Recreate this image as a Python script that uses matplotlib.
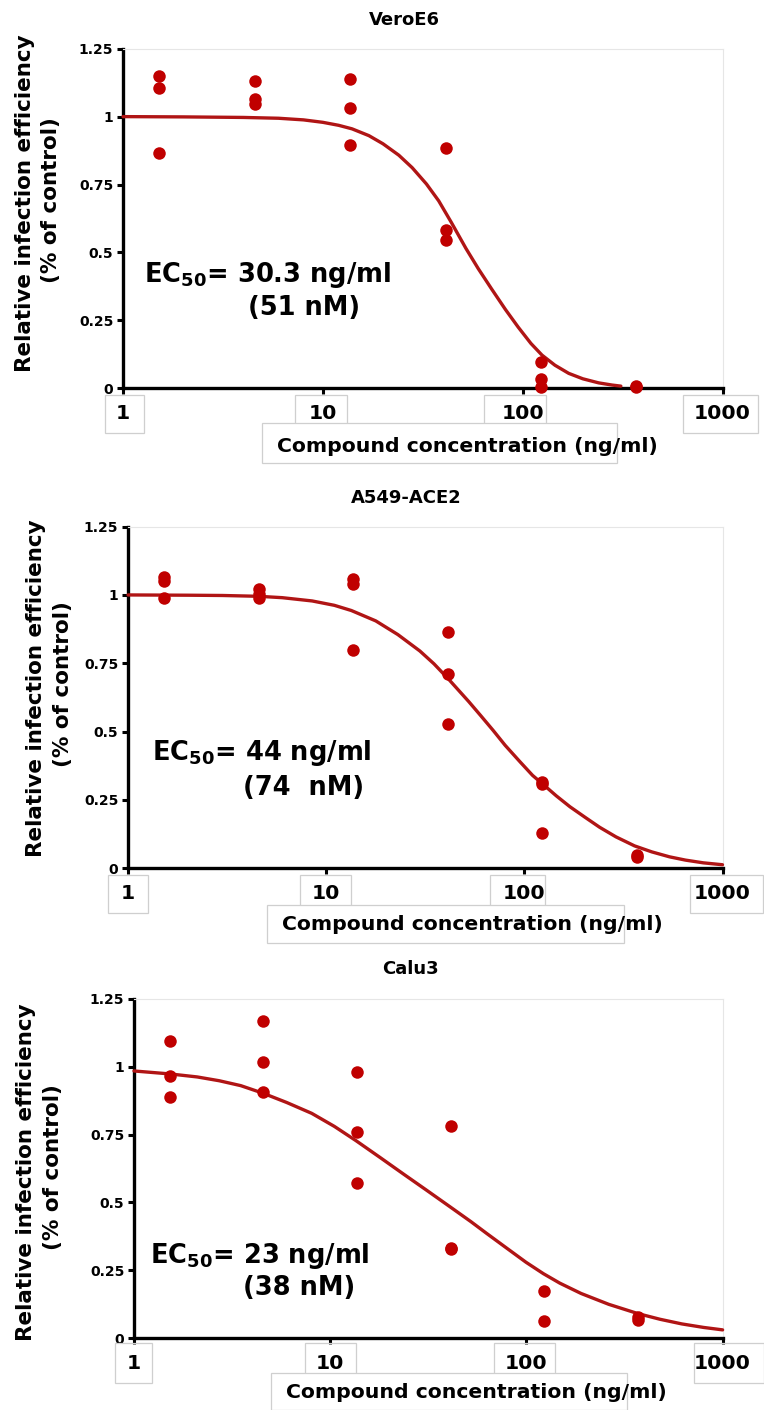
import matplotlib
matplotlib.use("Agg")
import matplotlib.pyplot as plt
from matplotlib.patches import Rectangle

plt.rcParams['font.family'] = ['DejaVu Sans']
plt.rcParams['font.weight'] = 'bold'
plt.rcParams['mathtext.default'] = 'bf'

# ---------------- data ----------------
conc = [1.52, 4.57, 13.7, 41.2, 123.5, 370]

vero_y = [[1.15, 1.105, 0.865], [1.13, 1.065, 1.045], [1.14, 1.03, 0.895],
          [0.885, 0.583, 0.545], [0.095, 0.033, 0.005], [0.01, 0.005]]
a549_y = [[1.065, 1.05, 0.99], [1.022, 1.005, 0.988], [1.057, 1.04, 0.80],
          [0.863, 0.711, 0.528], [0.315, 0.31, 0.13], [0.05, 0.04]]
calu_y = [[1.095, 0.967, 0.89], [1.168, 1.016, 0.908], [0.979, 0.758, 0.571],
          [0.782, 0.334, 0.328], [0.175, 0.064], [0.08, 0.068]]

# fitted curves
vero_cx = [1, 2, 4, 6, 8, 10, 12, 14, 17, 20, 24, 28, 33, 38, 44, 52, 60, 70, 82, 95,
           110, 125, 145, 170, 200, 240, 280, 310]
vero_cy = [1.0, 0.999, 0.997, 0.994, 0.988, 0.979, 0.968, 0.955, 0.93, 0.9, 0.858, 0.812,
           0.752, 0.69, 0.61, 0.515, 0.44, 0.365, 0.29, 0.225, 0.165, 0.122, 0.085, 0.055,
           0.035, 0.02, 0.012, 0.008]
a549_cx = [1, 2, 3, 4.57, 6, 8.5, 11, 13.4, 17.8, 23, 29.7, 35, 41.7, 52.4, 60, 69.5, 80,
           95, 110, 123, 145, 170, 204, 240, 290, 360, 440, 540, 650, 800, 1000]
a549_cy = [1.0, 0.999, 0.998, 0.995, 0.99, 0.978, 0.962, 0.943, 0.905, 0.855, 0.795, 0.748,
           0.69, 0.61, 0.56, 0.505, 0.45, 0.39, 0.34, 0.31, 0.265, 0.225, 0.185, 0.15,
           0.115, 0.082, 0.06, 0.042, 0.03, 0.02, 0.013]
calu_cx = [1, 1.53, 2.1, 2.72, 3.5, 4.55, 6, 8.05, 10.5, 13.5, 18, 23.8, 31, 41, 52, 63,
           80, 99.5, 122, 148, 190, 263, 370, 480, 619, 800, 1000]
calu_cy = [0.984, 0.973, 0.962, 0.948, 0.93, 0.902, 0.868, 0.828, 0.78, 0.728, 0.665,
           0.603, 0.545, 0.483, 0.43, 0.385, 0.33, 0.28, 0.238, 0.203, 0.165, 0.125,
           0.091, 0.07, 0.053, 0.04, 0.031]

titles = ["VeroE6", "A549-ACE2", "Calu3"]
ec_line1 = [r"EC$_{50}$= 30.3 ng/ml", r"EC$_{50}$= 44 ng/ml", r"EC$_{50}$= 23 ng/ml"]
ec_line2 = ["(51 nM)", "(74  nM)", "(38 nM)"]
xticks = [1, 10, 100, 1000]
xticklabels = ["1", "10", "100", "1000"]
yticks = [0, 0.25, 0.5, 0.75, 1, 1.25]
yticklabels = ["0", "0.25", "0.5", "0.75", "1", "1.25"]
xlabel = "Compound concentration (ng/ml)"
ylabel1 = "Relative infection efficiency"
ylabel2 = "(% of control)"

# ---------------- layout ----------------
W, H = 764, 1410
fig = plt.figure(figsize=(W / 100, H / 100), dpi=100)
fig.patch.set_facecolor('white')

def fx(x):
    return x / W

def fy(y):
    return 1 - y / H

DOT = '#C00000'
LINE = '#B01515'

panels = [
    dict(rect=(123, 722.5, 48.7, 388.3), ys=vero_y, cx=vero_cx, cy=vero_cy,
         title=(404, 20), yl1=(25, 203), yl2=(51, 200), ec1=(144, 282), ec2=(248, 315),
         boxes=[(105, 144), (295, 347), (484, 546), (683, 758)], btop=395, bbot=433,
         lbox=(262, 617, 423, 463), ltext=(467, 446)),
    dict(rect=(128, 722.5, 526.6, 868.3), ys=a549_y, cx=a549_cx, cy=a549_cy,
         title=(406, 498), yl1=(36, 688), yl2=(63, 684), ec1=(152, 760), ec2=(243, 795),
         boxes=[(108, 148), (300, 351), (490, 545), (690, 763)], btop=875, bbot=913,
         lbox=(267, 624, 905, 943), ltext=(472, 925)),
    dict(rect=(134, 722.6, 998.7, 1338.3), ys=calu_y, cx=calu_cx, cy=calu_cy,
         title=(410, 969), yl1=(26, 1172), yl2=(53, 1167), ec1=(150, 1263), ec2=(243, 1295),
         boxes=[(114.5, 152), (305, 356), (494, 555), (694, 764)], btop=1343, bbot=1383,
         lbox=(271, 627, 1373, 1410), ltext=(476, 1393)),
]

for i, p in enumerate(panels):
    l, r, t, b = p['rect']
    ax = fig.add_axes([fx(l), fy(b), (r - l) / W, (b - t) / H])
    ax.set_xscale('log')
    ax.set_xlim(1, 1000)
    ax.set_ylim(0, 1.25)

    # data points
    for c, vals in zip(conc, p['ys']):
        ax.plot([c] * len(vals), vals, 'o', color=DOT, markersize=9,
                markeredgewidth=0, clip_on=False, zorder=5)
    ax.plot(p['cx'], p['cy'], '-', color=LINE, lw=2.4, zorder=4, clip_on=False,
            solid_capstyle='round', solid_joinstyle='round')

    # spines
    for s in ['left', 'bottom']:
        ax.spines[s].set_linewidth(2.4)
        ax.spines[s].set_color('black')
    for s in ['top', 'right']:
        ax.spines[s].set_linewidth(0.8)
        ax.spines[s].set_color('#e6e6e6')

    ax.set_xticks(xticks)
    ax.set_xticklabels(xticklabels, fontsize=14.7, fontweight='bold')
    ax.xaxis.set_minor_locator(matplotlib.ticker.NullLocator())
    ax.set_yticks(yticks)
    ax.set_yticklabels(yticklabels, fontsize=10, fontweight='bold')
    ax.tick_params(axis='x', direction='out', length=4, width=2.2, pad=7)
    ax.tick_params(axis='y', direction='out', length=4, width=2.2, pad=3)
    ax.tick_params(top=False, right=False)

    # title
    fig.text(fx(p['title'][0]), fy(p['title'][1]), titles[i], fontsize=13,
             fontweight='bold', ha='center', va='center')
    # y labels
    fig.text(fx(p['yl1'][0]), fy(p['yl1'][1]), ylabel1, fontsize=15.5, fontweight='bold',
             rotation=90, ha='center', va='center')
    fig.text(fx(p['yl2'][0]), fy(p['yl2'][1]), ylabel2, fontsize=15.5, fontweight='bold',
             rotation=90, ha='center', va='center')
    # EC50 annotation
    fig.text(fx(p['ec1'][0]), fy(p['ec1'][1]), ec_line1[i], fontsize=18.5,
             fontweight='bold', ha='left', va='baseline')
    fig.text(fx(p['ec2'][0]), fy(p['ec2'][1]), ec_line2[i], fontsize=18.5,
             fontweight='bold', ha='left', va='baseline')

    # tick label boxes
    for (x0, x1) in p['boxes']:
        fig.add_artist(Rectangle((fx(x0), fy(p['bbot'])), (x1 - x0) / W,
                                 (p['bbot'] - p['btop']) / H, transform=fig.transFigure,
                                 facecolor='none', edgecolor='#cfcfcf', lw=0.9, zorder=1))
    lx0, lx1, ly0, ly1 = p['lbox']
    fig.add_artist(Rectangle((fx(lx0), fy(ly1)), (lx1 - lx0) / W, (ly1 - ly0) / H,
                             transform=fig.transFigure, facecolor='white',
                             edgecolor='#cfcfcf', lw=0.9, zorder=2))
    t_ = fig.text(fx(p['ltext'][0]), fy(p['ltext'][1]), xlabel, fontsize=14.7,
                  fontweight='bold', ha='center', va='center')
    t_.set_zorder(3)

fig.savefig('out.png', dpi=100, facecolor='white')
